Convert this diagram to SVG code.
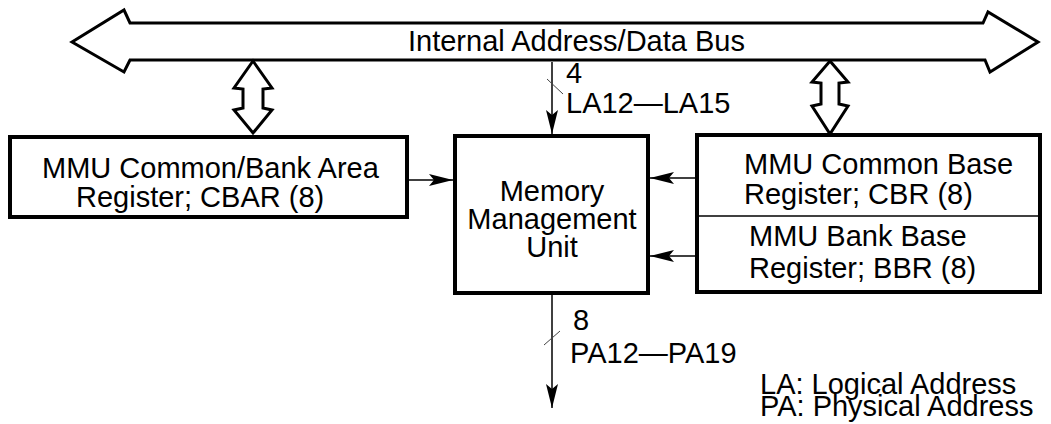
<svg xmlns="http://www.w3.org/2000/svg" width="1051" height="424" viewBox="0 0 1051 424">
<style>
.t{font-family:"Liberation Sans",Arial,sans-serif;fill:#000}
.box{fill:#fff;stroke:#000;stroke-width:4}
.bus{fill:#fff;stroke:#000;stroke-width:3;stroke-linejoin:miter}
.ln{stroke:#000;stroke-width:1.5;fill:none}
.sl{stroke:#444;stroke-width:1;fill:none}
</style>
<defs>
<marker id="ah" markerWidth="24" markerHeight="12" refX="24" refY="6" orient="auto" markerUnits="userSpaceOnUse">
<path d="M0,0 L24,6 L0,12 L5,6 Z" fill="#000"/>
</marker>
</defs>
<g id="bus">
<polygon class="bus" points="72,42 124,10 130,23 983,23 988,12 1038,42 990,72 985,60 130,60 124,72"/>
<text class="t" x="408" y="51" font-size="29">Internal Address/Data Bus</text>
</g>
<g id="bus-links">
<polygon class="bus" points="253,61 272,88 263,89 263,108 272,110 253,133 234,110 243,108 243,89 234,88"/>
<polygon class="bus" points="830,61 848,82 839,83 839,104 848,106 830,134 812,106 821,104 821,83 812,82"/>
</g>
<g id="cbar">
<rect class="box" x="10" y="137" width="397" height="80"/>
<text class="t" font-size="29"><tspan x="42" y="178">MMU Common/Bank Area</tspan><tspan x="76" y="207">Register; CBAR (8)</tspan></text>
</g>
<g id="mmu">
<rect class="box" x="455" y="136" width="193" height="157"/>
<text class="t" font-size="29" text-anchor="middle"><tspan x="552" y="201">Memory</tspan><tspan x="552" y="229">Management</tspan><tspan x="552" y="257">Unit</tspan></text>
</g>
<g id="base-regs">
<rect class="box" x="697" y="135" width="343" height="157"/>
<line x1="697" y1="216" x2="1040" y2="216" stroke="#000" stroke-width="1.5"/>
<text class="t" font-size="29"><tspan x="744" y="174">MMU Common Base</tspan><tspan x="744" y="204">Register; CBR (8)</tspan><tspan x="749" y="246">MMU Bank Base</tspan><tspan x="749" y="278">Register; BBR (8)</tspan></text>
</g>
<g id="legend">
<text class="t" font-size="29"><tspan x="760" y="394">LA: Logical Address</tspan><tspan x="760" y="416">PA: Physical Address</tspan></text>
</g>
<g id="connectors">
<line class="ln" x1="552" y1="62" x2="552" y2="134" marker-end="url(#ah)"/>
<line class="sl" x1="547" y1="79" x2="563" y2="94"/>
<text class="t" x="566" y="83" font-size="29">4</text>
<text class="t" x="566" y="113" font-size="29">LA12—LA15</text>
<line class="ln" x1="408" y1="180" x2="453" y2="180" marker-end="url(#ah)"/>
<line class="ln" x1="696" y1="178" x2="650" y2="178" marker-end="url(#ah)"/>
<line class="ln" x1="696" y1="256" x2="650" y2="256" marker-end="url(#ah)"/>
<line class="ln" x1="552" y1="295" x2="552" y2="408" marker-end="url(#ah)"/>
<line class="sl" x1="544" y1="345" x2="560" y2="331"/>
<text class="t" x="573" y="330" font-size="29">8</text>
<text class="t" x="570" y="363" font-size="29">PA12—PA19</text>
</g>
</svg>
